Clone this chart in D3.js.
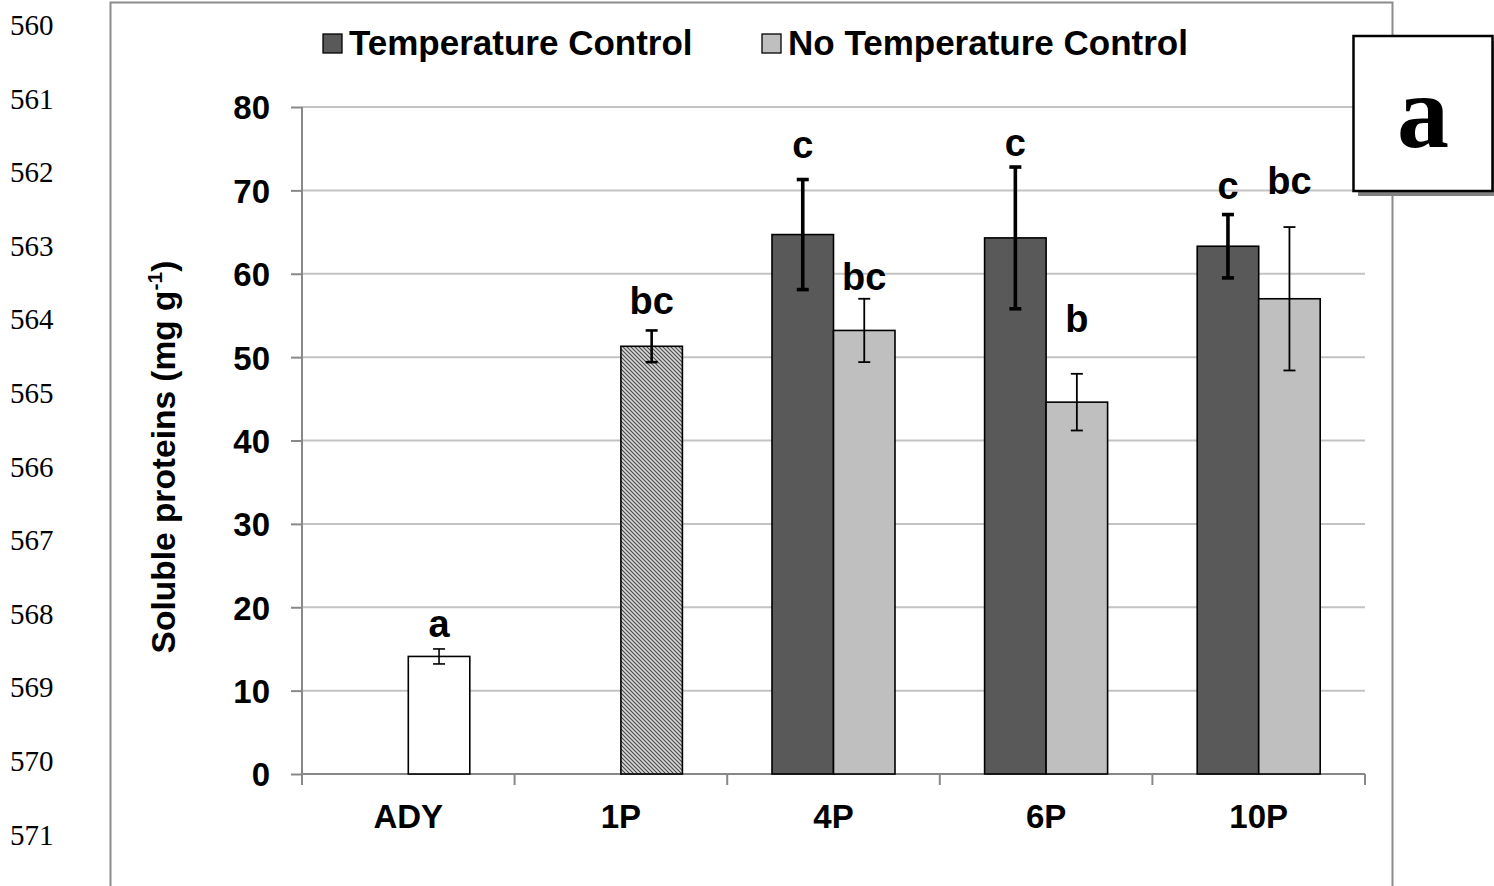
<!DOCTYPE html>
<html>
<head>
<meta charset="utf-8">
<script src="https://cdn.jsdelivr.net/npm/d3@7"></script>
<style>
  html, body { margin: 0; padding: 0; background: #fff; }
  svg { display: block; }
</style>
</head>
<body>
<svg id="chart" width="1494" height="886"></svg>
<script>
// Sampling points along the x axis
const categories = ["ADY", "1P", "4P", "6P", "10P"];

// Reference samples (no treatment split): active dry yeast and first passage
const baseCategories = ["ADY", "1P"];
const baseValues = [14.1, 51.3];
const baseErrors = [0.9, 1.9];
const baseLetters = ["a", "bc"];

// Propagation with temperature control
const tcCategories = ["4P", "6P", "10P"];
const tcValues = [64.7, 64.3, 63.3];
const tcErrors = [6.6, 8.5, 3.8];
const tcLetters = ["c", "c", "c"];

// Propagation without temperature control
const ntcCategories = ["4P", "6P", "10P"];
const ntcValues = [53.2, 44.6, 57.0];
const ntcErrors = [3.8, 3.4, 8.6];
const ntcLetters = ["bc", "b", "bc"];

const yTicks = [0, 10, 20, 30, 40, 50, 60, 70, 80];
const lineNumbers = [560, 561, 562, 563, 564, 565, 566, 567, 568, 569, 570, 571];
const seriesNames = ["Temperature Control", "No Temperature Control"];

// ---- layout ----
const svg = d3.select("#chart");
const plot = { left: 302, right: 1365, top: 107, bottom: 774 };
const barW = 61.5;
const sans = "'Liberation Sans', Arial, sans-serif";
const serif = "'Liberation Serif', 'Times New Roman', serif";

const x = d3.scaleBand().domain(categories).range([plot.left, plot.right]).padding(0);
const y = d3.scaleLinear().domain([0, 80]).range([plot.bottom, plot.top]);

// hatched fill for the first passage
const defs = svg.append("defs");
const pat = defs.append("pattern")
  .attr("id", "hatch").attr("patternUnits", "userSpaceOnUse")
  .attr("width", 4).attr("height", 4);
pat.append("rect").attr("width", 4).attr("height", 4).attr("fill", "#d6d6d6");
pat.append("path").attr("d", "M-1,-1 L5,5 M-1,3 L1,5 M3,-1 L5,1")
  .attr("stroke", "#4a4a4a").attr("stroke-width", 1.1);

// line numbering in the margin
svg.append("g").selectAll("text").data(lineNumbers).join("text")
  .attr("x", 10).attr("y", (d, i) => 35 + i * 73.6)
  .attr("font-family", serif).attr("font-size", 29).attr("fill", "#000")
  .text(d => d);

// chart area frame (open at the bottom)
svg.append("path")
  .attr("d", "M110.5,886 L110.5,2.5 L1392.5,2.5 L1392.5,886")
  .attr("fill", "none").attr("stroke", "#8c8c8c").attr("stroke-width", 2);

// gridlines
svg.append("g").selectAll("line").data(yTicks.filter(d => d > 0)).join("line")
  .attr("x1", plot.left).attr("x2", plot.right)
  .attr("y1", d => y(d)).attr("y2", d => y(d))
  .attr("stroke", "#c3c3c3").attr("stroke-width", 2);

// y axis
const yAxis = svg.append("g").attr("transform", `translate(${plot.left},0)`)
  .call(d3.axisLeft(y).tickValues(yTicks).tickSize(11).tickPadding(21));
yAxis.select(".domain").attr("stroke", "#888").attr("stroke-width", 2)
  .attr("d", `M0,${plot.top}V${plot.bottom + 11}`);
yAxis.selectAll(".tick line").attr("stroke", "#888").attr("stroke-width", 2);
yAxis.selectAll(".tick text").attr("font-family", sans).attr("font-weight", "bold")
  .attr("font-size", 33).attr("fill", "#000").attr("dy", "0.36em");

// x axis: ticks sit on the category boundaries
const xAxis = svg.append("g").attr("transform", `translate(0,${plot.bottom})`);
xAxis.append("line").attr("x1", plot.left).attr("x2", plot.right)
  .attr("stroke", "#888").attr("stroke-width", 2);
const bounds = categories.map(c => x(c)).concat([x(categories[categories.length - 1]) + x.bandwidth()]);
xAxis.selectAll("line.tk").data(bounds).join("line").attr("class", "tk")
  .attr("x1", d => d).attr("x2", d => d).attr("y1", 0).attr("y2", 11)
  .attr("stroke", "#888").attr("stroke-width", 2);
xAxis.selectAll("text").data(categories).join("text")
  .attr("x", d => x(d) + x.bandwidth() / 2).attr("y", 54)
  .attr("text-anchor", "middle").attr("font-family", sans).attr("font-weight", "bold")
  .attr("font-size", 33).attr("fill", "#000").text(d => d);

// y axis title
svg.append("text")
  .attr("transform", "translate(175,457) rotate(-90)")
  .attr("text-anchor", "middle").attr("font-family", sans).attr("font-weight", "bold")
  .attr("font-size", 33.5).attr("fill", "#000")
  .call(t => {
    t.append("tspan").text("Soluble proteins (mg g");
    t.append("tspan").attr("font-size", 21).attr("dy", -13).text("-1");
    t.append("tspan").attr("dy", 13).text(")");
  });

// bar slots: left of centre for temperature control, right of centre otherwise
const centre = c => x(c) + x.bandwidth() / 2;
const leftSlot = c => centre(c) - barW;
const rightSlot = c => centre(c);

function drawGroup(cats, vals, errs, letters, slot, fillFn, errStyle, letterGap) {
  const g = svg.append("g");
  const rows = cats.map((c, i) => ({ c, v: vals[i], e: errs[i], l: letters[i], i }));
  g.selectAll("rect").data(rows).join("rect")
    .attr("x", d => slot(d.c)).attr("width", barW)
    .attr("y", d => y(d.v)).attr("height", d => y(0) - y(d.v))
    .attr("fill", d => fillFn(d)).attr("stroke", "#000").attr("stroke-width", 1.6);
  const eb = g.selectAll("g.err").data(rows).join("g").attr("class", "err")
    .attr("stroke", "#000").attr("stroke-width", d => errStyle(d));
  const mx = d => slot(d.c) + barW / 2;
  eb.append("line").attr("x1", mx).attr("x2", mx)
    .attr("y1", d => y(d.v + d.e)).attr("y2", d => y(d.v - d.e));
  eb.append("line").attr("x1", d => mx(d) - 6).attr("x2", d => mx(d) + 6)
    .attr("y1", d => y(d.v + d.e)).attr("y2", d => y(d.v + d.e));
  eb.append("line").attr("x1", d => mx(d) - 6).attr("x2", d => mx(d) + 6)
    .attr("y1", d => y(d.v - d.e)).attr("y2", d => y(d.v - d.e));
  g.selectAll("text").data(rows).join("text")
    .attr("x", mx).attr("y", d => y(d.v + d.e) - letterGap[d.i])
    .attr("text-anchor", "middle").attr("font-family", sans).attr("font-weight", "bold")
    .attr("font-size", 38).attr("fill", "#000").text(d => d.l);
}

// spacing between each error bar and its significance letter (px)
drawGroup(baseCategories, baseValues, baseErrors, baseLetters, rightSlot,
  d => d.c === "1P" ? "url(#hatch)" : "#fff",
  d => d.c === "1P" ? 2.6 : 1.6, [12, 16]);
drawGroup(tcCategories, tcValues, tcErrors, tcLetters, leftSlot,
  () => "#595959", () => 3.6, [22, 11, 16]);
drawGroup(ntcCategories, ntcValues, ntcErrors, ntcLetters, rightSlot,
  () => "#bfbfbf", () => 1.8, [9, 42, 33]);

// legend
const legend = svg.append("g");
const legendItems = [
  { name: seriesNames[0], fill: "#595959", x: 323 },
  { name: seriesNames[1], fill: "#bfbfbf", x: 762 }
];
legend.selectAll("rect").data(legendItems).join("rect")
  .attr("x", d => d.x).attr("y", 34).attr("width", 19).attr("height", 19)
  .attr("fill", d => d.fill).attr("stroke", "#000").attr("stroke-width", 1.3);
legend.selectAll("text").data(legendItems).join("text")
  .attr("x", d => d.x + 26).attr("y", 55)
  .attr("font-family", sans).attr("font-weight", "bold").attr("font-size", 35)
  .attr("fill", "#000").text(d => d.name);

// panel tag box with drop shadow
const tag = svg.append("g");
tag.append("rect").attr("x", 1358).attr("y", 41).attr("width", 140).attr("height", 155)
  .attr("fill", "#808080");
tag.append("rect").attr("x", 1353.5).attr("y", 36).attr("width", 139).attr("height", 155)
  .attr("fill", "#fff").attr("stroke", "#000").attr("stroke-width", 2.5);
tag.append("text").attr("x", 1423).attr("y", 147).attr("text-anchor", "middle")
  .attr("font-family", serif).attr("font-weight", "bold").attr("font-size", 104)
  .attr("fill", "#000").text("a");
</script>
</body>
</html>
